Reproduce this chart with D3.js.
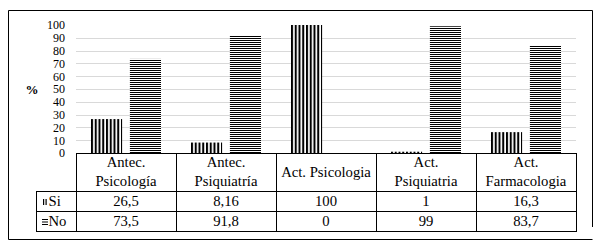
<!DOCTYPE html>
<html>
<head>
<meta charset="utf-8">
<script src="https://cdn.jsdelivr.net/npm/d3@7"></script>
<style>
  body { margin: 0; background: #fff; }
</style>
</head>
<body>
<svg id="chart" width="600" height="244"></svg>
<script>
// datos
const categories = ["Antec.\nPsicología", "Antec.\nPsiquiatría", "Act. Psicologia", "Act.\nPsiquiatria", "Act.\nFarmacologia"];
const seriesNames = ["Si", "No"];
const siValues = [26.5, 8.16, 100, 1, 16.3];
const noValues = [73.5, 91.8, 0, 99, 83.7];
const yTicks = [0, 10, 20, 30, 40, 50, 60, 70, 80, 90, 100];

const FONT = "'Liberation Serif', 'Times New Roman', 'DejaVu Serif', serif";

const svg = d3.select("#chart");

// patrones de relleno
const defs = svg.append("defs");
const vp = defs.append("pattern")
  .attr("id", "vstripe")
  .attr("patternUnits", "userSpaceOnUse")
  .attr("width", 3.75).attr("height", 4);
vp.append("rect").attr("width", 3.75).attr("height", 4).attr("fill", "#fff");
vp.append("rect").attr("width", 2).attr("height", 4).attr("fill", "#000");

const hp = defs.append("pattern")
  .attr("id", "hstripe")
  .attr("patternUnits", "userSpaceOnUse")
  .attr("width", 4).attr("height", 2);
hp.append("rect").attr("width", 4).attr("height", 2).attr("fill", "#fff");
hp.append("rect").attr("width", 4).attr("height", 1).attr("fill", "#000");

const fills = { Si: "url(#vstripe)", No: "url(#hstripe)" };

// marco exterior
const frame = svg.append("g").attr("stroke", "#000").attr("stroke-width", 1);
frame.append("line").attr("x1", 8.5).attr("y1", 10.5).attr("x2", 592.5).attr("y2", 10.5);
frame.append("line").attr("x1", 8.5).attr("y1", 10.5).attr("x2", 8.5).attr("y2", 239.5);
frame.append("line").attr("x1", 592.5).attr("y1", 10.5).attr("x2", 592.5).attr("y2", 227);
frame.append("line").attr("x1", 8.5).attr("y1", 239.5).attr("x2", 592.5).attr("y2", 239.5);

const plotLeft = 76, plotRight = 576, plotTop = 25, plotBottom = 153;

const x0 = d3.scaleBand().domain(categories).range([plotLeft, plotRight]);
const x1 = d3.scaleBand().domain(seriesNames).range([15, 85]).paddingInner(0.2);
const y = d3.scaleLinear().domain([0, 100]).range([plotBottom, plotTop]);

// rejilla
svg.append("g")
  .selectAll("line")
  .data(yTicks.filter(d => d > 0 && d < 100))
  .join("line")
  .attr("x1", plotLeft).attr("x2", plotRight)
  .attr("y1", d => Math.round(y(d)) + 0.5)
  .attr("y2", d => Math.round(y(d)) + 0.5)
  .attr("stroke", "#d9d9d9");

// eje y
const yAxis = svg.append("g")
  .attr("transform", `translate(${plotLeft - 11},0)`)
  .call(d3.axisLeft(y).tickValues(yTicks).tickSize(0).tickPadding(0))
  .attr("font-family", FONT)
  .attr("font-size", 12);
yAxis.select(".domain").remove();
yAxis.selectAll("text").attr("fill", "#000");

svg.append("text")
  .attr("x", 32).attr("y", y(50) + 5)
  .attr("text-anchor", "middle")
  .attr("font-family", FONT)
  .attr("font-size", 13)
  .attr("font-weight", "bold")
  .text("%");

// barras
const rows = categories.map((c, i) => ({ cat: c, Si: siValues[i], No: noValues[i] }));
svg.append("g")
  .selectAll("g")
  .data(rows)
  .join("g")
  .attr("transform", d => `translate(${x0(d.cat)},0)`)
  .selectAll("rect")
  .data(d => seriesNames.map(k => ({ key: k, value: d[k] })))
  .join("rect")
  .attr("x", d => x1(d.key))
  .attr("width", x1.bandwidth())
  .attr("y", d => y(d.value))
  .attr("height", d => plotBottom - y(d.value))
  .attr("fill", d => fills[d.key]);

// tabla de datos
const headerBottom = 191, rowH = 20, legendLeft = 36;
const tbl = svg.append("g").attr("stroke", "#000").attr("stroke-width", 1);
tbl.append("line").attr("x1", plotLeft).attr("x2", plotRight).attr("y1", plotBottom + 0.5).attr("y2", plotBottom + 0.5);
[0, 1, 2].forEach(i => {
  const yy = headerBottom + i * rowH + 0.5;
  tbl.append("line").attr("x1", legendLeft).attr("x2", plotRight).attr("y1", yy).attr("y2", yy);
});
tbl.selectAll(".vl")
  .data(categories.concat(["end"]))
  .join("line")
  .attr("x1", (d, i) => plotLeft + i * x0.bandwidth() + 0.5)
  .attr("x2", (d, i) => plotLeft + i * x0.bandwidth() + 0.5)
  .attr("y1", plotBottom).attr("y2", headerBottom + 2 * rowH + 1);
tbl.append("line")
  .attr("x1", legendLeft + 0.5).attr("x2", legendLeft + 0.5)
  .attr("y1", headerBottom).attr("y2", headerBottom + 2 * rowH + 1);

const txt = svg.append("g").attr("font-family", FONT).attr("font-size", 14.7).attr("fill", "#000");

// encabezados
txt.append("g")
  .selectAll("text")
  .data(categories)
  .join("text")
  .attr("text-anchor", "middle")
  .each(function(d) {
    const lines = d.split("\n");
    const cx = x0(d) + x0.bandwidth() / 2;
    const t = d3.select(this);
    if (lines.length === 1) {
      t.append("tspan").attr("x", cx).attr("y", 177).text(lines[0]);
    } else {
      lines.forEach((l, j) => t.append("tspan").attr("x", cx).attr("y", 167 + j * 19).text(l));
    }
  });

// valores
const fmt = v => String(v).replace(".", ",");
[siValues, noValues].forEach((vals, r) => {
  txt.append("g")
    .selectAll("text")
    .data(vals)
    .join("text")
    .attr("x", (d, i) => x0(categories[i]) + x0.bandwidth() / 2)
    .attr("y", headerBottom + r * rowH + 15)
    .attr("text-anchor", "middle")
    .text(fmt);
});

// leyenda
seriesNames.forEach((k, r) => {
  const yy = headerBottom + r * rowH;
  if (k === "Si") {
    svg.append("rect").attr("x", 43).attr("y", yy + 8).attr("width", 1.2).attr("height", 6).attr("fill", "#000");
    svg.append("rect").attr("x", 45.5).attr("y", yy + 8).attr("width", 1.2).attr("height", 6).attr("fill", "#000");
  } else {
    [0, 2.5, 5].forEach(o => svg.append("rect").attr("x", 42).attr("y", yy + 8 + o).attr("width", 6).attr("height", 1).attr("fill", "#000"));
  }
  txt.append("text")
    .attr("x", 48.5)
    .attr("y", yy + 15)
    .text(k);
});
</script>
</body>
</html>
